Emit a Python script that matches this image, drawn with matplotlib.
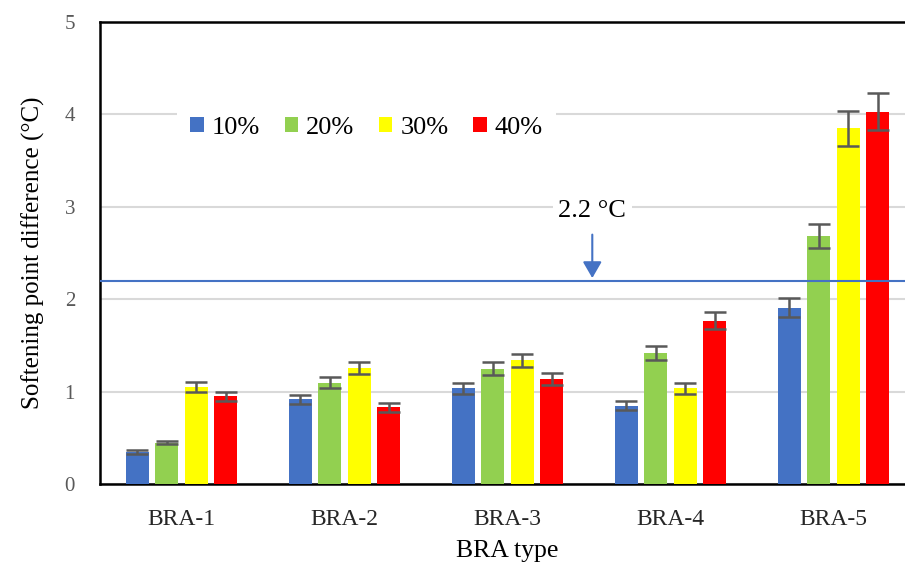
import matplotlib.pyplot as plt
import numpy as np

plt.rcParams['font.family'] = ['Liberation Serif', 'DejaVu Serif']

# softening point difference per BRA type, one list per dosage
categories = ['BRA-1', 'BRA-2', 'BRA-3', 'BRA-4', 'BRA-5']
dosages = ['10%', '20%', '30%', '40%']
vals_10 = [0.35, 0.92, 1.04, 0.85, 1.91]
vals_20 = [0.45, 1.10, 1.25, 1.42, 2.69]
vals_30 = [1.05, 1.26, 1.34, 1.04, 3.85]
vals_40 = [0.95, 0.83, 1.14, 1.77, 4.03]
err_10 = [0.025, 0.047, 0.06, 0.047, 0.10]
err_20 = [0.02, 0.06, 0.067, 0.074, 0.13]
err_30 = [0.055, 0.067, 0.072, 0.06, 0.19]
err_40 = [0.045, 0.047, 0.067, 0.094, 0.20]
limit = 2.2

colors = ['#4472C4', '#92D050', '#FFFF00', '#FF0000']

fig = plt.figure(figsize=(9.05, 5.62), dpi=100)
ax = fig.add_axes([0.1105, 0.1384, 0.9006, 0.8225])

x = np.arange(len(categories))
width = 0.139
step = 0.181
series = [vals_10, vals_20, vals_30, vals_40]
errs = [err_10, err_20, err_30, err_40]
for i, (v, e) in enumerate(zip(series, errs)):
    ax.bar(x + (i - 1.5) * step, v, width, color=colors[i], label=dosages[i], zorder=3,
           yerr=e, error_kw=dict(ecolor='#595959', elinewidth=1.8, capsize=8, capthick=1.8))

ax.axhline(limit, color='#4472C4', lw=1.5, zorder=4)

ax.set_xlim(-0.5, 4.5)
ax.set_ylim(0, 5)
ax.set_yticks(range(6))
ax.set_xticks(x)
ax.set_xticklabels(categories)
ax.yaxis.grid(True, color='#D9D9D9', lw=1.5, zorder=0)
ax.tick_params(length=0)
ax.tick_params(axis='x', labelsize=17, pad=18, labelcolor='#262626')
ax.tick_params(axis='y', labelsize=15, pad=18, labelcolor='#595959')
for s in ['left', 'bottom', 'top']:
    ax.spines[s].set_linewidth(1.8)
    ax.spines[s].set_color('black')
ax.spines['right'].set_visible(False)

ax.set_xlabel('BRA type', fontsize=18.5, labelpad=7)
ax.set_ylabel('Softening point difference (°C)', fontsize=18, labelpad=14)

# threshold label with arrow pointing to the line
ax.annotate('', xy=(2.52, limit), xytext=(2.52, 2.73),
            arrowprops=dict(arrowstyle='-|>,head_length=0.38,head_width=0.22',
                            color='#4472C4', lw=1.5, mutation_scale=26), zorder=5)
ax.text(2.52, 2.95, '2.2 °C', fontsize=19, ha='center', va='center', zorder=5,
        bbox=dict(facecolor='white', edgecolor='none', pad=4))

leg = fig.legend(loc='center', bbox_to_anchor=(0.405, 0.772), ncol=4, fontsize=19,
                 frameon=True, facecolor='white', edgecolor='none', framealpha=1,
                 handlelength=0.5, handleheight=0.5, handletextpad=0.3, columnspacing=0.95,
                 borderpad=0.5)

fig.savefig('out.png', dpi=100)
